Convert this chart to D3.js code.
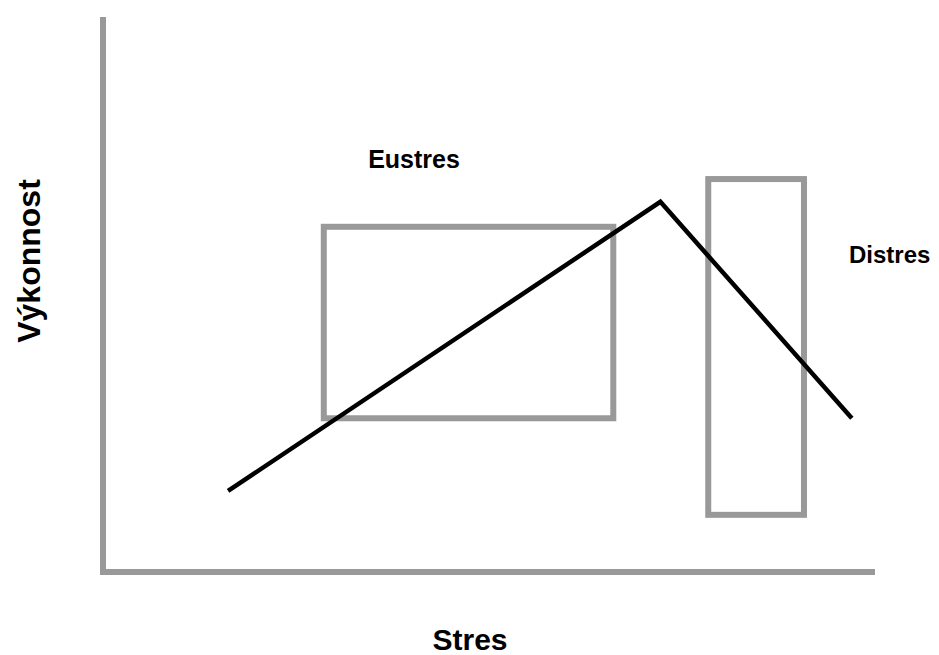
<!DOCTYPE html>
<html>
<head>
<meta charset="utf-8">
<script src="https://cdn.jsdelivr.net/npm/d3@7"></script>
<style>
  html, body { margin: 0; padding: 0; background: #fff; }
  svg { display: block; }
  text { font-family: "Liberation Sans", Arial, sans-serif; font-weight: bold; fill: #000; }
</style>
</head>
<body>
<svg id="chart" width="939" height="655"></svg>
<script>
// Conceptual data (stress 0-100 on x, performance 0-100 on y)
const curveStress = [16.2, 72.2, 97.0];
const curvePerformance = [14.6, 66.7, 27.7];
const zoneNames = ["Eustres", "Distres"];
const zoneStressFrom = [28.6, 78.4];
const zoneStressTo = [66.1, 90.8];
const zonePerfFrom = [27.7, 10.3];
const zonePerfTo = [62.2, 70.8];
const xAxisTitle = "Stres";
const yAxisTitle = "Výkonnost";

(function () {
  const svg = d3.select("#chart");
  const pLeft = 103, pRight = 875, pTop = 17, pBottom = 572;

  const x = d3.scaleLinear().domain([0, 100]).range([pLeft, pRight]);
  const y = d3.scaleLinear().domain([0, 100]).range([pBottom, pTop]);

  const gray = "#999999";

  // axes (plain lines, no ticks)
  svg.append("path")
    .attr("d", `M${x(0)},${y(100)} V${y(0)} H${x(100)}`)
    .attr("fill", "none")
    .attr("stroke", gray)
    .attr("stroke-width", 6)
    .attr("stroke-linejoin", "miter");

  // zone rectangles
  const zones = zoneNames.map((n, i) => ({
    name: n, x0: zoneStressFrom[i], x1: zoneStressTo[i], y0: zonePerfFrom[i], y1: zonePerfTo[i]
  }));
  svg.selectAll("rect.zone").data(zones).enter().append("rect")
    .attr("class", "zone")
    .attr("x", d => x(d.x0))
    .attr("y", d => y(d.y1))
    .attr("width", d => x(d.x1) - x(d.x0))
    .attr("height", d => y(d.y0) - y(d.y1))
    .attr("fill", "none")
    .attr("stroke", gray)
    .attr("stroke-width", 6);

  // performance curve
  const pts = curveStress.map((s, i) => [s, curvePerformance[i]]);
  svg.append("path")
    .datum(pts)
    .attr("d", d3.line().x(d => x(d[0])).y(d => y(d[1])))
    .attr("fill", "none")
    .attr("stroke", "#000")
    .attr("stroke-width", 4.5)
    .attr("stroke-linejoin", "miter");

  // zone labels
  svg.append("text").attr("x", 414).attr("y", 168)
    .attr("text-anchor", "middle").attr("font-size", 25).text(zoneNames[0]);
  svg.append("text").attr("x", 849).attr("y", 263)
    .attr("text-anchor", "start").attr("font-size", 24).text(zoneNames[1]);

  // axis titles
  svg.append("text").attr("x", 470).attr("y", 650)
    .attr("text-anchor", "middle").attr("font-size", 30).text(xAxisTitle);
  svg.append("text")
    .attr("transform", "translate(40,261) rotate(-90)")
    .attr("text-anchor", "middle").attr("font-size", 32).text(yAxisTitle);
})();
</script>
</body>
</html>
